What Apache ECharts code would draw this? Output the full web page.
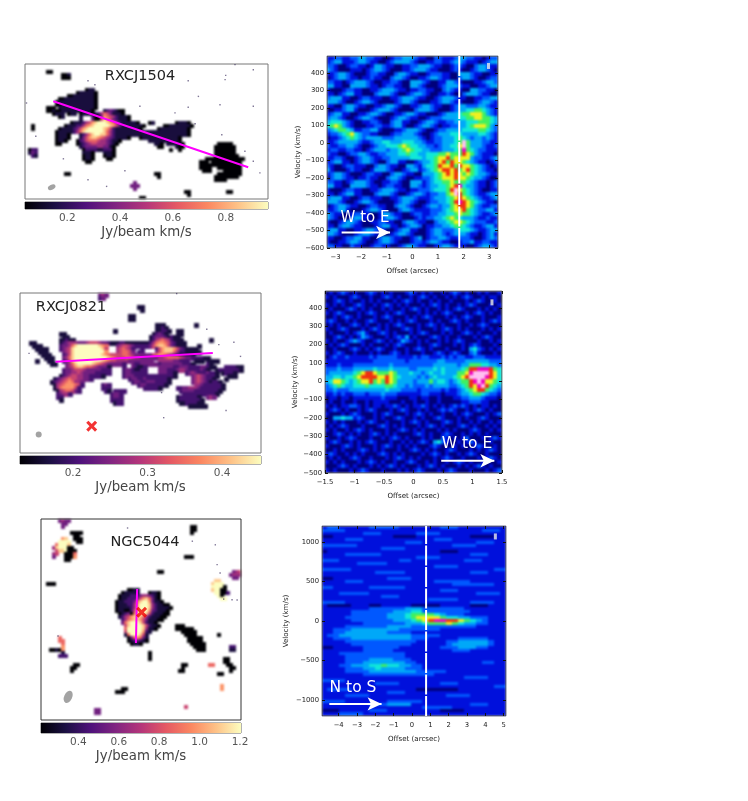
<!DOCTYPE html>
<html>
<head>
<meta charset="utf-8">
<script src="https://cdn.jsdelivr.net/npm/echarts@6/dist/echarts.min.js"></script>
<style>
  html, body { margin: 0; background: #fff; }
  #wrap { position: relative; width: 748px; height: 801px; overflow: hidden; }
  #cells, #chart { position: absolute; left: 0; top: 0; width: 748px; height: 801px; }
  #cells { filter: blur(1.1px); }
  #chart { filter: blur(0.3px); }
</style>
</head>
<body>
<div id="wrap">
  <div id="cells"></div>
  <div id="chart"></div>
</div>
<script>
// moment maps: [row, first column, levels 0-9 along the row], 3px cells
const map1Runs = [
  [2,7,'00'],[3,12,'001'],[4,12,'000'],[8,20,'011'],[9,17,'0111110'],[10,14,'0011111110'],
  [11,11,'0011111111110'],[12,10,'01111111111110'],[13,10,'00111111111110'],
  [14,7,'000'],[14,11,'1111111111110'],[15,7,'0010'],[15,11,'011111111110'],[15,26,'1232100'],
  [16,9,'0111'],[16,14,'011'],[16,18,'01110'],[16,23,'1246531110'],
  [17,11,'01'],[17,18,'1'],[17,22,'2003765421110'],[18,18,'1'],[18,22,'3005875321110'],
  [19,15,'0111'],[19,19,'2457899987642111110'],[19,41,'01'],[19,50,'01110'],
  [20,2,'0'],[20,13,'011122467899999875311111110'],[20,46,'0011111110'],
  [21,2,'0'],[21,11,'0111123578999998752111111110'],[21,44,'01111111110'],
  [22,10,'011111246899999986421111111111111111111111110'],
  [23,10,'01110'],[23,18,'1246899886421111111111111111111111110'],
  [24,10,'01110'],[24,18,'13578876543211110'],[24,38,'01111111111110'],
  [25,10,'0110'],[25,17,'023566654432110'],[25,41,'11111111110'],
  [26,10,'00'],[26,17,'01234554443210'],[26,43,'110'],[26,47,'111110'],[26,64,'00000'],
  [27,18,'123333443310'],[27,44,'00'],[27,50,'100'],[27,63,'0000000'],
  [28,1,'022'],[28,19,'02222112220'],[28,48,'0'],[28,51,'0'],[28,63,'0000000'],
  [29,1,'132'],[29,19,'1110'],[29,26,'1110'],[29,63,'0000000'],
  [30,2,'21'],[30,19,'0110'],[30,26,'0110'],[30,63,'00000000'],
  [31,19,'0110'],[31,27,'00'],[31,60,'0000000000000'],
  [32,20,'00'],[32,58,'000'],[32,62,'0000000000'],[33,58,'00000000000000'],
  [34,58,'0000'],[34,64,'00000000'],[35,59,'000'],[35,66,'000000'],
  [36,13,'00'],[36,43,'00'],[36,64,'00000000'],[37,44,'0'],[37,63,'00000000'],[38,63,'0000'],
  [39,36,'3'],[40,35,'333'],[41,36,'3'],[42,53,'00'],[42,67,'00'],[43,54,'0'],[44,38,'00']
];
const map2Runs = [
  [0,26,'343'],[1,26,'23'],[4,39,'11'],[5,40,'1'],[7,36,'11'],[8,36,'11'],[10,45,'111'],[10,58,'1'],
  [11,45,'1121'],[12,31,'1'],[12,45,'11221'],[12,52,'11'],[13,13,'11'],[13,44,'12321'],[13,52,'11'],
  [14,14,'11'],[14,43,'1233321211'],[15,13,'11211'],[15,43,'12456542111'],[15,63,'1'],
  [16,3,'11'],[16,13,'123444333455543321112211111111246776532111'],
  [17,4,'111'],[17,13,'2334689999999876'],[17,32,'34554322222357887532111'],[17,59,'1'],
  [18,5,'1111'],[18,13,'2345899999999985'],[18,32,'456542'],[18,40,'2'],[18,45,'25788875321111'],
  [19,6,'111'],[19,14,'345899999999997'],[19,32,'456653'],[19,39,'22'],[19,45,'357888642211111'],
  [20,7,'111'],[20,14,'2358999999999876555566543'],[20,39,'3333356776543211111'],
  [21,8,'111'],[21,14,'346899999999999876555665443333334'],[21,47,'4566665433222211'],
  [22,5,'1'],[22,9,'11'],[22,14,'235899999999987655444433333333'],[22,46,'4444433222'],[22,58,'111'],[22,62,'1111'],
  [23,10,'11'],[23,15,'34689999987654333332'],[23,37,'322333333233333332221'],[23,62,'21'],
  [24,15,'345788766543331'],[24,34,'2'],[24,37,'32112'],[24,46,'3333322333222233211'],[24,68,'222211'],
  [25,14,'2334555433333222'],[25,34,'23321122'],[25,46,'33322234432222321'],[25,65,'122222221'],
  [26,14,'2334454333322222'],[26,34,'23322222'],[26,46,'333221'],[26,55,'23432223221'],[26,67,'12221'],
  [27,13,'123455443322221'],[27,34,'23332222222222'],[27,48,'2221'],[27,57,'345432221'],[27,69,'111'],
  [28,11,'1234565544332'],[28,36,'23322322222221'],[28,57,'34543221'],[28,68,'1'],
  [29,10,'12345676443'],[29,37,'2332233322221'],[29,57,'3454321'],[29,64,'221'],
  [30,11,'1456777652'],[30,27,'232'],[30,39,'2332222221'],[30,58,'4432222221'],
  [31,11,'146777752'],[31,27,'222'],[31,41,'22221'],[31,45,'21'],[31,52,'2233444322222221'],
  [32,12,'14566532'],[32,28,'21'],[32,31,'2222'],[32,53,'23333222222221'],
  [33,12,'23442'],[33,30,'2332'],[33,54,'222222222221'],
  [34,12,'22'],[34,30,'2332'],[34,52,'12222221'],[34,62,'343'],
  [35,13,'1'],[35,30,'2222'],[35,52,'122222221'],[36,31,'122'],[36,53,'11222211'],[37,56,'111111']
];
const map3Runs = [
  [0,6,'3433'],[1,7,'33'],[2,7,'3'],[2,50,'00'],[3,50,'00'],[4,50,'0'],[4,10,'0000'],[5,11,'00'],
  [6,7,'78'],[6,11,'000'],[7,6,'9999'],[7,12,'00'],[8,5,'69998'],[9,4,'4899900'],[10,5,'5889000'],
  [11,4,'45'],[11,8,'0006'],[12,4,'3'],[12,8,'0007'],[12,48,'000'],[13,8,'00'],
  [17,39,'00'],[17,64,'345'],[18,63,'3444'],[19,64,'33'],[20,58,'88'],[21,2,'000'],[21,57,'8999'],
  [22,57,'99990'],[23,29,'0011'],[23,57,'89900'],[24,27,'011111'],[24,36,'0110'],[24,58,'99002'],
  [25,26,'01112223443210'],[25,59,'90'],[26,26,'01122235786310'],[26,60,'99'],
  [27,25,'0112223689973110'],[28,25,'011122479998421100'],[29,25,'0111124799984211110'],
  [30,25,'011002589997321110'],[31,26,'01230689985211100'],[32,26,'1245788864211100'],
  [33,27,'24678875311100'],[34,27,'368999852110'],[35,28,'589999852110'],[35,45,'000'],
  [36,28,'69999984110'],[36,45,'000000'],[37,28,'599999721'],[37,47,'00000'],
  [38,28,'16999851'],[38,48,'0000'],[38,59,'0'],[39,6,'6'],[39,29,'0367631'],[39,49,'00000'],
  [40,6,'66'],[40,29,'0123210'],[40,49,'00000'],[41,7,'6'],[41,30,'0110'],[41,50,'00000'],
  [42,7,'7'],[42,51,'0000'],[42,63,'22'],[43,3,'0010'],[43,7,'7'],[43,52,'000'],[43,63,'11'],
  [44,7,'1'],[44,36,'0'],[45,6,'222'],[45,36,'0'],[46,36,'0'],[46,61,'00'],[47,61,'00'],
  [48,11,'00'],[48,47,'00'],[48,56,'66'],[48,62,'00'],[49,10,'00'],[49,47,'0'],[49,63,'00'],
  [50,10,'0'],[50,46,'00'],[50,63,'0'],[51,59,'00'],[55,60,'7'],[56,27,'00'],[56,60,'7'],
  [57,25,'000'],[62,48,'5'],[63,18,'33'],[64,18,'33']
];
// single pixel specks on the maps, [column, row]
const map1Specks = [[3.6,24.1],[23.3,6.9],[21,5.6],[54.4,5.6],[66.9,3.8],[66.7,5.2],[76.1,1.9],[70,0.2],[38.3,14.1],[57.8,10.8],[65,13.6],[76.1,14.1],[54.4,14.4],[50,16.3],[56.7,19.9],[65.6,23.6],[73.3,29.1],[76.1,32.4],[78.3,36.3],[33.3,35.6],[21,38.6],[27.2,40.8],[12.8,31.6],[0.5,13]];
const map2Specks = [[71,16.3],[73.2,21],[66,17.1],[47,33],[47.7,41.3],[68.4,38.9],[52,0.2],[3,20],[62,12]];
const map3Specks = [[29,3],[50.7,7.4],[58.4,8.6],[59,15.2],[60,18],[64,26.9],[65.7,27],[61.2,26.7],[5.7,39]];

// position-velocity diagrams: rows top to bottom, levels 0-9
const pv1Rows = [
  '1122112233221100122333211002211123322110122','1233111233211001233332100112211233211101233',
  '2210012211013321100112233321100122100233211','3210001110123321000112333211000121001233210',
  '1123321000122110023321100122211003332110011','0123321101121100233210011233211002332100122',
  '2211012333210011221003332100113321000112332','3311003333211012211003321000123332110011233',
  '1000122110011233321101122110023211003322110','1101233110002333210012332100112100233321100',
  '2333110012211100112333211001233321100112233','3332100123321000012332100011233211000123321',
  '1100233211001123321001123321100123322233211','0011233100012333210000233321000123344554321',
  '1233110011233210011233211000123334556665321','2332100123321000123321100122233334455665543',
  '3444321001122100233110012332112233344455543','4565321000112211233100123321011223345666532',
  '2345543112233100011233321001223333444455432','1223456432211000122333210012333444333344321',
  '0112345432333322233333321012233345432332321','1123333321123344333444332112233345953332211',
  '2112233210012334445654433221233446953332112','1221122110123332334565443322233345854322111',
  '2110012233211223334454433444556555765321110','1122100123321122333334443445667566663221123',
  '1233110123321002331100123345675766543211012','2100122111002332110033213445766757665432101',
  '3100012110013332100123312345677675675432110','1233210001221100233211003334567676565433211',
  '0233211011211002332100112234566676654332100','2211012333210011221003331234455655543211012',
  '3311003333211012211003321233445678433211012','1000122110011233321101122234445796543210011',
  '1101233110002333210012332122335697543211233','2333110012211100112333211123334567654321123',
  '3332100123321000012332100122334578765432110','0123321100122110023321001233233567765321122',
  '1123310001233210002332111122234566754322331','3211001221100133211001221122334456554321123',
  '3210002331100123321000121223345654333211211','1001233210011221100233211002334566543222112',
  '1102332110001233110123320112233455432112331','2331100112332110012331100123322234443211233',
  '3321000123321000123321000123321233321101231','1100122331100233211001230122332112221001232',
  '1001123321001233210001221233211001223112211','2211002110012211001233211001233211100123321'
];
const pv2Rows = [
  '01012101001210101000121010100101210100101001','10100012100100121010010121010010101210010110',
  '00121010010101000101210100101001000101210010','10101001210010121010100010121010010121000101',
  '01000121010100101001012101001010121000101010','10121000101210010121000101010121000101210100',
  '00101210100010121000101012100010101210010001','12100101001210001010121000101001210100010121',
  '01010012101001010121000101210100010010121000','10012100010121010001210100010121010100010101',
  '01000101231001210100010121000101001210100010','00121010132100010121301000121010010001012100',
  '10100123210012101013210101001010121000100101','01012100010100010121000100121000101012100010',
  '00100012101012100100101210100010001034210101','10121001000101001210100010012101210023100010',
  '01211211111212222211112122111212122112221111','11111111111122222222122222223322222333333222',
  '11121112222222223222222222233333323355544332','22232223333343334333322333343433334577888754',
  '23333334567765556533343323433433355689999764','33443445677776676543333232343333456799998764',
  '34665434566756576533332333534432345578986654','23454334445444455433232223233332234576897543',
  '22322233333333343332222122222121123456775432','11212112221222322211111122111011123345543221',
  '01101101111111211100011011001000112233321110','01001001001011110001001001001000001122211000',
  '10101122101011011210101121010101212101011010','01210100101210001012100101001212100101210100',
  '10001012100010121000101210100100101210001012','00334331210010100121001010012100010100121000',
  '10101000101210010001012101000121010010100101','01012100010001210101000101210100012101001010',
  '10100101210100010012101010001010100012100101','00121010100121010100001210100121001010101000',
  '10010121000100101210100010100210101200010121','01210010101210001001010121034210010121000100',
  '10001210100010121010101000121000101001210010','00101000121010100010012101010012100010101210',
  '12100101010001210101000010121010010121001000','01010012100100010121010100010121001000101210',
  '10101000101210100100121001010010121010010001','00012101000101012101000101210100010101210100',
  '10100010121000100010101210001012100010001012'
];
const pv3Rows = [
  '1221111122222111111122211111111','2222111111111111111111111112221','1111111222111111222211111111111',
  '0011111111110000111111111000011','1111222111111111111222111111111','1111111111111122211111111122211',
  '2222221111111111111111222211111','1111111111222211111111111111111','0111111111111111111100011111111',
  '1111222222111111111111111222111','1111111111111111222211111111111','2221111111111221111111112221111',
  '1111112222211111111111111111111','1111111111111111111222211111111','2222211111111111111111111111122',
  '1111111112222211111111111222111','1111111111111111111111111111111','0011111111122221111111111111111',
  '1111222111111111111222222111111','1111111111111111111111222222211','2211111122222211111111111111111',
  '1111111111111111111122211111111','1112222211111111111111111122221','1111111111222111111111111111111',
  '1111111111111111112222211111111','2222111111111111111111111222211','1000011100111110000011111000111',
  '1111111122222233322222221111111','1111122222223334422222222111111','1111122222233345555432221111111',
  '1111222222233345666654433222111','1111122222223334567887765432111','1111111222222233345556543322111',
  '1111222222233332222222222211111','1122233333333222222211111111111','1122333333322221111111111111111',
  '1223333333333332222211111111111','1122233333333332221111122222111','1111222222222222111112233333211',
  '1111122222222221111112333333211','0011111222222111111122233322111','1111111222221111111111222111111',
  '1112222222222211111111111111111','1111222222222211111111111111111','1111222233332221111111111111111',
  '1111222333333322111111111112211','1112233344544332211111111111111','1111222334333322211111111111111',
  '1111222233333333222221111111111','1111111222222222222111111111111','1111111111111111111111112222111',
  '2222111111111111111111111111111','1111111112222111111122211111111','1111111111111111111111111111122',
  '1222211111111111000000011111111','1111111111122211111111111111111','1111222211111111111112222111111',
  '1111111111111111111111111111111','2222111111122222211111111111111','1111111122233331111111111222111',
  '1111111111111111122222111111111','0001111122211111111100001111111','1112222111111111111111111111111'
];

// tick labels
const bar1Ticks = [0.2, 0.4, 0.6, 0.8];
const bar2Ticks = [0.2, 0.3, 0.4];
const bar3Ticks = [0.4, 0.6, 0.8, 1.0, 1.2];
const pv1XTicks = [-3, -2, -1, 0, 1, 2, 3];
const pv1YTicks = [-600, -500, -400, -300, -200, -100, 0, 100, 200, 300, 400];
const pv2XTicks = [-1.5, -1, -0.5, 0, 0.5, 1, 1.5];
const pv2YTicks = [-500, -400, -300, -200, -100, 0, 100, 200, 300, 400];
const pv3XTicks = [-4, -3, -2, -1, 0, 1, 2, 3, 4, 5];
const pv3YTicks = [-1000, -500, 0, 500, 1000];

const magma = ['#000004', '#1c1044', '#4f127b', '#812581', '#b5367a', '#e55964', '#fb8761', '#fec287', '#fcfdbf'];
const pvColors = ['#00007a', '#0010dc', '#0058ff', '#00a8f8', '#10e8d8', '#40f060', '#f0f020', '#f03010', '#f000c0', '#ffc0f0'];

// cells go on a softly blurred layer under the frames, ticks, lines and text
const under = { animation: false, grid: [], xAxis: [], yAxis: [], series: [], visualMap: [] };
const over = { animation: false, grid: [], xAxis: [], yAxis: [], series: [], graphic: [] };
const tickFont = 'DejaVu Sans';

function minus(v) {
  return String(v).replace('-', '−');
}

function renderCell(params, api) {
  const a = api.coord([api.value(0), api.value(1)]);
  const b = api.coord([api.value(2), api.value(3)]);
  const x = Math.floor(Math.min(a[0], b[0]));
  const y = Math.floor(Math.min(a[1], b[1]));
  return {
    type: 'rect',
    shape: { x: x, y: y, width: Math.ceil(Math.abs(b[0] - a[0])) + 1, height: Math.ceil(Math.abs(b[1] - a[1])) + 1 },
    style: { fill: api.visual('color') }
  };
}

function addCells(box, xRange, yRange, inverse, background, cells, colors, vRange) {
  const g = under.grid.length;
  under.grid.push({ left: box.l, top: box.t, width: box.w, height: box.h, show: true, backgroundColor: background, borderWidth: 0 });
  under.xAxis.push({ gridIndex: g, type: 'value', min: xRange[0], max: xRange[1], show: false });
  under.yAxis.push({ gridIndex: g, type: 'value', min: yRange[0], max: yRange[1], inverse: inverse, show: false });
  under.series.push({
    type: 'custom', xAxisIndex: g, yAxisIndex: g, data: cells, clip: true, silent: true,
    encode: { x: [0, 2], y: [1, 3] }, renderItem: renderCell
  });
  under.visualMap.push({ show: false, seriesIndex: under.series.length - 1, dimension: 4, min: vRange[0], max: vRange[1], inRange: { color: colors } });
}

// left column: moment map + colorbar
function addMap(box, cols, rows, runs, specks, range, ticks) {
  const cells = [];
  runs.forEach(run => {
    run[2].split('').forEach((lvl, k) => {
      cells.push([run[1] + k, run[0], run[1] + k + 1, run[0] + 1, range[0] + Number(lvl) / 9 * (range[1] - range[0])]);
    });
  });
  addCells(box, [0, cols], [0, rows], true, '#fff', cells, magma, range);
  const g = over.grid.length;
  over.grid.push({ left: box.l, top: box.t, width: box.w, height: box.h, show: true, backgroundColor: 'transparent', borderColor: box.c || '#777', borderWidth: 1 });
  over.xAxis.push({ gridIndex: g, type: 'value', min: 0, max: cols, show: false });
  over.yAxis.push({ gridIndex: g, type: 'value', min: 0, max: rows, inverse: true, show: false });
  const xi = over.xAxis.length - 1, yi = over.yAxis.length - 1;
  over.series.push({
    type: 'scatter', xAxisIndex: xi, yAxisIndex: yi, data: specks, symbol: 'rect', symbolSize: 1.4,
    itemStyle: { color: '#2a1a50', opacity: 0.6 }, silent: true
  });

  // colorbar
  const c = over.grid.length;
  over.grid.push({ left: box.l, top: box.barTop, width: box.w, height: box.barH, show: true, borderColor: '#666', borderWidth: 1 });
  over.xAxis.push({
    gridIndex: c, type: 'value', min: range[0], max: range[1], position: 'bottom',
    name: 'Jy/beam km/s', nameLocation: 'middle', nameGap: 17,
    nameTextStyle: { fontFamily: tickFont, fontSize: 13.3, color: '#444' },
    axisLine: { show: false, onZero: false }, splitLine: { show: false },
    axisTick: { inside: true, length: box.barH, customValues: ticks, lineStyle: { color: 'rgba(40,40,40,0.55)', width: 1 } },
    axisLabel: { customValues: ticks, fontFamily: tickFont, fontSize: 10.5, color: '#555', margin: 4, hideOverlap: false, formatter: v => v.toFixed(1) }
  });
  over.yAxis.push({ gridIndex: c, type: 'value', min: 0, max: 1, show: false });
  over.series.push({
    type: 'custom', xAxisIndex: over.xAxis.length - 1, yAxisIndex: over.yAxis.length - 1, data: [[range[0], 0, range[1], 1]], silent: true,
    encode: { x: [0, 2], y: [1, 3] },
    renderItem: (params, api) => {
      const a = api.coord([api.value(0), api.value(1)]);
      const b = api.coord([api.value(2), api.value(3)]);
      return {
        type: 'rect',
        shape: { x: a[0], y: b[1], width: b[0] - a[0], height: a[1] - b[1] },
        style: { fill: new echarts.graphic.LinearGradient(0, 0, 1, 0, magma.map((color, i) => ({ offset: i / (magma.length - 1), color: color }))) }
      };
    }
  });
  return { xi: xi, yi: yi };
}

// right column: position-velocity panel
function addPv(box, xRange, yRange, xTicks, yTicks, rows, cols) {
  const dx = (xRange[1] - xRange[0]) / cols, dy = (yRange[1] - yRange[0]) / rows.length;
  const cells = [];
  rows.forEach((row, r) => {
    row.split('').forEach((lvl, k) => {
      cells.push([xRange[0] + k * dx, yRange[1] - r * dy, xRange[0] + (k + 1) * dx, yRange[1] - (r + 1) * dy, Number(lvl)]);
    });
  });
  addCells(box, xRange, yRange, false, '#0018c8', cells, pvColors, [0, 9]);

  // white ring hides what the blur lets out of the frame
  over.graphic.push({
    type: 'rect', z: 0, silent: true,
    shape: { x: box.l - 3, y: box.t - 3, width: box.w + 6, height: box.h + 6 },
    style: { fill: 'transparent', stroke: '#fff', lineWidth: 5 }
  });

  const g = over.grid.length;
  over.grid.push({ left: box.l, top: box.t, width: box.w, height: box.h, show: true, backgroundColor: 'transparent', borderColor: '#333', borderWidth: 1 });
  const tick = { inside: true, length: 3, lineStyle: { color: '#111', width: 1 } };
  const label = { fontFamily: tickFont, fontSize: 6.8, color: '#222', formatter: minus, hideOverlap: false };
  const noLine = { show: false, onZero: false };
  over.xAxis.push({
    gridIndex: g, type: 'value', min: xRange[0], max: xRange[1], position: 'bottom', z: 5,
    name: 'Offset (arcsec)', nameLocation: 'middle', nameGap: 20, nameTextStyle: { fontFamily: tickFont, fontSize: 7.1, color: '#222' },
    axisLine: noLine, splitLine: { show: false },
    axisTick: Object.assign({ customValues: xTicks }, tick),
    axisLabel: Object.assign({ customValues: xTicks, margin: 6 }, label)
  });
  const xi = over.xAxis.length - 1;
  over.xAxis.push({
    gridIndex: g, type: 'value', min: xRange[0], max: xRange[1], position: 'top', z: 5,
    axisLine: noLine, splitLine: { show: false }, axisLabel: { show: false },
    axisTick: Object.assign({ customValues: xTicks }, tick)
  });
  over.yAxis.push({
    gridIndex: g, type: 'value', min: yRange[0], max: yRange[1], position: 'left', z: 5,
    name: 'Velocity (km/s)', nameLocation: 'middle', nameGap: box.nameGap, nameTextStyle: { fontFamily: tickFont, fontSize: 7.1, color: '#222' },
    axisLine: noLine, splitLine: { show: false },
    axisTick: Object.assign({ customValues: yTicks }, tick),
    axisLabel: Object.assign({ customValues: yTicks, margin: 3 }, label)
  });
  const yi = over.yAxis.length - 1;
  over.yAxis.push({
    gridIndex: g, type: 'value', min: yRange[0], max: yRange[1], position: 'right', z: 5,
    axisLine: noLine, splitLine: { show: false }, axisLabel: { show: false },
    axisTick: Object.assign({ customValues: yTicks }, tick)
  });
  return { xi: xi, yi: yi };
}

function addLine(ax, points, color, width, dash) {
  over.series.push({
    type: 'line', xAxisIndex: ax.xi, yAxisIndex: ax.yi, data: points, symbol: 'none', silent: true, z: 4,
    lineStyle: { color: color, width: width, type: dash || 'solid' }
  });
}

function addMarker(ax, point, symbol, size, rotate, color) {
  over.series.push({
    type: 'scatter', xAxisIndex: ax.xi, yAxisIndex: ax.yi, data: [point], symbol: symbol, symbolSize: size,
    symbolRotate: rotate, itemStyle: { color: color }, silent: true, z: 5
  });
}

function addArrow(ax, from, to) {
  over.series.push({
    type: 'line', xAxisIndex: ax.xi, yAxisIndex: ax.yi, silent: true, z: 6, showSymbol: true,
    data: [
      { value: from, symbol: 'none' },
      { value: to, symbol: 'arrow', symbolSize: [10, 14], symbolRotate: -90, itemStyle: { color: '#fff' } }
    ],
    lineStyle: { color: '#fff', width: 2 }
  });
}

function caption(text, x, y, size, color) {
  return {
    type: 'text', x: x, y: y, z: 50, silent: true,
    style: { text: text, fontFamily: tickFont, fontSize: size, fill: color, align: 'center', verticalAlign: 'middle' }
  };
}

const crossPath = 'path://M0 2L2 0L5 3L8 0L10 2L7 5L10 8L8 10L5 7L2 10L0 8L3 5Z';

const map1 = addMap({ l: 25, t: 64, w: 243, h: 135, barTop: 202, barH: 7 }, 81, 45, map1Runs, map1Specks, [0.04, 0.96], bar1Ticks);
addLine(map1, [[9.44, 12.44], [74.4, 34.4]], '#ff00ff', 2);
addMarker(map1, [8.9, 41.1], 'circle', [8, 5], 25, '#8c8c8c');

const map2 = addMap({ l: 20, t: 293, w: 241, h: 160, barTop: 456, barH: 8 }, 80, 53, map2Runs, map2Specks, [0.129, 0.452], bar2Ticks);
addLine(map2, [[11.8, 22.8], [64, 19.9]], '#ff00ff', 2);
addMarker(map2, [23.8, 44.1], crossPath, 11, 0, '#f00000');
addMarker(map2, [6.2, 46.9], 'circle', 6, 0, '#8c8c8c');

const map3 = addMap({ l: 41, t: 519, w: 200, h: 201, c: '#333', barTop: 723, barH: 10 }, 67, 67, map3Runs, map3Specks, [0.215, 1.205], bar3Ticks);
addLine(map3, [[32.2, 23.3], [31.8, 41.3]], '#ff00ff', 2);
addMarker(map3, [33.7, 31.1], crossPath, 11, 0, '#f00000');
addMarker(map3, [9.1, 59.3], 'circle', [8, 13], -25, '#8c8c8c');

const pv1 = addPv({ l: 327, t: 56, w: 171, h: 192, nameGap: 24 }, [-3.33, 3.34], [-600, 498], pv1XTicks, pv1YTicks, pv1Rows, 43);
addLine(pv1, [[1.83, -600], [1.83, 498]], '#fff', 2, [20, 1.5]);
addArrow(pv1, [-2.76, -511], [-0.87, -511]);
addMarker(pv1, [2.97, 441], 'rect', [3, 6], 0, '#e8e8e8');

const pv2 = addPv({ l: 325, t: 291, w: 177, h: 182, nameGap: 26 }, [-1.5, 1.5], [-500, 493], pv2XTicks, pv2YTicks, pv2Rows, 44);
addArrow(pv2, [0.47, -433], [1.37, -433]);
addMarker(pv2, [1.33, 431], 'rect', [3, 6], 0, '#e8e8e8');

const pv3 = addPv({ l: 322, t: 526, w: 184, h: 190, nameGap: 32 }, [-4.91, 5.13], [-1200, 1200], pv3XTicks, pv3YTicks, pv3Rows, 31);
addLine(pv3, [[0.77, -1200], [0.77, 1200]], '#fff', 2, [20, 1.5]);
addArrow(pv3, [-4.51, -1047], [-1.66, -1047]);
addMarker(pv3, [4.55, 1068], 'rect', [3, 6], 0, '#e8e8e8');

over.graphic.push(
  caption('RXCJ1504', 140, 76, 14.5, '#222'),
  caption('RXCJ0821', 71, 307, 14.5, '#222'),
  caption('NGC5044', 145, 542, 14.5, '#222'),
  caption('W to E', 365, 218, 15, '#fff'),
  caption('W to E', 467, 444, 15.5, '#fff'),
  caption('N to S', 353, 688, 15.5, '#fff')
);

echarts.init(document.getElementById('cells')).setOption(under);
echarts.init(document.getElementById('chart')).setOption(over);
</script>
</body>
</html>
